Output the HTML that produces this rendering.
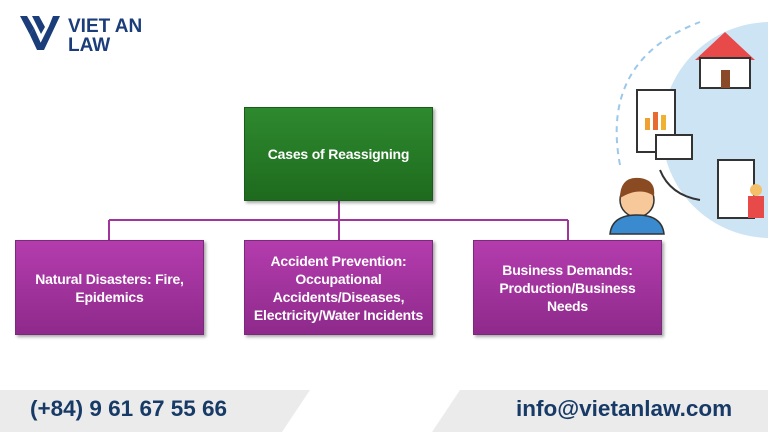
<!DOCTYPE html>
<html><head><style>
body{margin:0;width:768px;height:432px;overflow:hidden;background:#fff;font-family:"Liberation Sans",sans-serif;position:relative}
.b{position:absolute;display:flex;align-items:center;justify-content:center;text-align:center;color:#fff;font-weight:bold;font-size:14px;line-height:18px;box-sizing:border-box;border:1px solid #7a2a78;background:linear-gradient(#b43cae,#8e2a8b);box-shadow:2px 2px 3px rgba(0,0,0,.35);letter-spacing:-0.2px}
.g{background:linear-gradient(#2e8a2e,#1e6a1e);border-color:#1a5a1a}
.ft{position:absolute;color:#173a66;font-family:"Liberation Sans Narrow","Liberation Sans",sans-serif;font-size:22.5px;top:396px;font-weight:bold}
</style></head><body>
<svg width="768" height="432" style="position:absolute;left:0;top:0">
<polygon points="0,390 310,390 282,432 0,432" fill="#ebebeb"/>
<polygon points="460,390 768,390 768,432 432,432" fill="#ebebeb"/>
<g stroke="#a0359c" stroke-width="2" fill="none">
<path d="M339 201V220M109 220H568M109 220V240M339 220V240M568 220V240"/>
</g>
<!-- logo -->
<g fill="#1b3d7a">
<polygon points="20,16 27,16 34,28 30,35"/>
<polygon points="32,16 39,16 45,27 41,34"/>
<polygon points="53,16 60,16 44,50 37,50 41,42 49,26"/>
<polygon points="30,35 34,28 44,50 37,50"/>
<text x="68" y="32" font-size="19" font-weight="bold" font-family="Liberation Sans">VIET AN</text>
<text x="68" y="51" font-size="19" font-weight="bold" font-family="Liberation Sans">LAW</text>
</g>
<!-- illustration -->
<circle cx="770" cy="130" r="108" fill="#cde4f5"/>
<path d="M620 165 Q600 60 700 22" stroke="#9cc8ea" stroke-width="2" stroke-dasharray="6 5" fill="none"/>
<polygon points="695,60 725,32 755,60" fill="#e84a4a"/>
<rect x="700" y="58" width="50" height="30" fill="#fff" stroke="#333" stroke-width="2"/>
<rect x="721" y="70" width="9" height="18" fill="#8a4a2a"/>
<rect x="637" y="90" width="38" height="62" fill="#fff" stroke="#333" stroke-width="2"/>
<rect x="645" y="118" width="5" height="12" fill="#f0a030"/><rect x="653" y="112" width="5" height="18" fill="#e86a30"/><rect x="661" y="115" width="5" height="15" fill="#f0b030"/>
<rect x="656" y="135" width="36" height="24" fill="#fff" stroke="#333" stroke-width="2"/>
<rect x="718" y="160" width="36" height="58" fill="#fff" stroke="#333" stroke-width="2"/>
<circle cx="756" cy="190" r="6" fill="#f5c06a"/><rect x="748" y="196" width="16" height="22" fill="#e84a4a"/>
<path d="M660 170 Q670 195 700 200" stroke="#333" stroke-width="2" fill="none"/>
<circle cx="637" cy="200" r="17" fill="#f7c99a" stroke="#333" stroke-width="1.5"/>
<path d="M620 198 Q620 176 640 178 Q656 180 654 196 Q640 186 620 198Z" fill="#8a4a22"/>
<path d="M610 234 Q612 215 637 215 Q662 215 664 234Z" fill="#3a8ad0" stroke="#333" stroke-width="1.5"/>
</svg>
<div class="b g" style="left:244px;top:107px;width:189px;height:94px">Cases of Reassigning</div>
<div class="b" style="left:15px;top:240px;width:189px;height:95px">Natural Disasters: Fire,<br>Epidemics</div>
<div class="b" style="left:244px;top:240px;width:189px;height:95px">Accident Prevention:<br>Occupational<br>Accidents/Diseases,<br>Electricity/Water Incidents</div>
<div class="b" style="left:473px;top:240px;width:189px;height:95px">Business Demands:<br>Production/Business<br>Needs</div>
<div class="ft" style="left:30px">(+84) 9 61 67 55 66</div>
<div class="ft" style="left:516px">info@vietanlaw.com</div>
</body></html>
